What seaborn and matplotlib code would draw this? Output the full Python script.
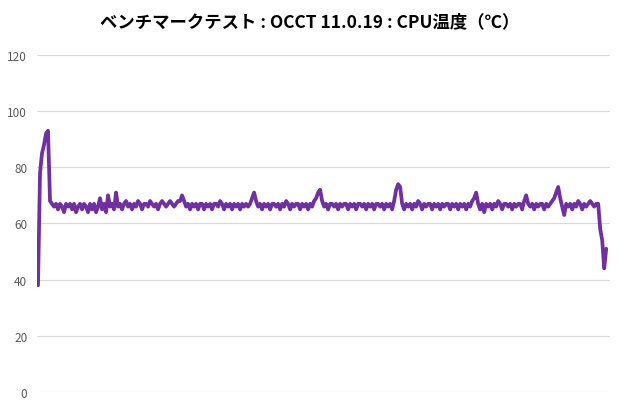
import numpy as np
import pandas as pd
import matplotlib
matplotlib.use("Agg")
import matplotlib.pyplot as plt
import seaborn as sns

# CPU temperature (°C), one sample per ~2 px
startup = [38, 78, 85, 88, 92, 93]
run_a = [68, 67, 66, 67, 65, 67, 66, 64, 67, 66, 67, 65, 67, 64, 66, 67, 65, 67, 66, 64,
         67, 65, 67, 64, 66, 69, 65, 67, 64, 70, 66, 67, 65, 71, 66, 67, 65, 67, 68, 66,
         67, 65, 67, 66, 68, 67, 65, 67, 67, 66, 68, 67, 66, 67, 65, 67, 68, 67, 66, 67,
         68, 67, 66, 67, 68, 68, 70, 68, 66, 67, 65, 67, 66, 67, 65, 67, 67, 65, 67, 66,
         67, 65, 67, 67, 66, 68, 67, 65, 67, 66, 67, 65, 67, 66, 67, 65, 67, 66, 67, 66]
run_b = [67, 69, 71, 68, 66, 67, 65, 67, 66, 67, 65, 67, 67, 66, 67, 65, 67, 66, 68, 67,
         65, 67, 66, 67, 67, 65, 67, 66, 67, 65, 67, 66, 68, 69, 71, 72, 68, 66, 67, 65,
         67, 67, 66, 67, 65, 67, 66, 67, 67, 65, 67, 66, 67, 65, 67, 67, 66, 67, 65, 67,
         66, 67, 65, 67, 67, 66, 67, 65, 67, 66, 67, 65, 68, 72, 74, 73, 67, 65, 67, 66,
         67, 65, 67, 66, 68, 67, 65, 67, 66, 67, 67, 65, 67, 66, 67, 65, 67, 66, 67, 67]
run_c = [65, 67, 66, 67, 65, 67, 66, 67, 65, 67, 66, 68, 69, 71, 67, 65, 67, 64, 67, 66,
         67, 65, 67, 66, 68, 67, 65, 67, 67, 66, 67, 65, 67, 66, 67, 67, 65, 68, 70, 67,
         66, 67, 65, 67, 66, 67, 67, 65, 67, 66, 67, 68, 69, 71, 73, 69, 66, 63, 67, 66,
         67, 65, 67, 66, 68, 67, 65, 67, 66, 67, 68, 67, 66, 67, 67]
cooldown = [58, 54, 44, 51]

temps = startup + run_a + run_b + run_c + cooldown
df = pd.DataFrame({"sample": np.arange(len(temps)), "temp": temps})

title = "ベンチマークテスト : OCCT 11.0.19 : CPU温度（℃）"
yticks = [0, 20, 40, 60, 80, 100, 120]

sns.set_style("white")
plt.rcParams["font.family"] = ["Noto Sans CJK JP", "DejaVu Sans"]

fig = plt.figure(figsize=(6.2, 4.1), dpi=100)
ax = fig.add_axes([0.0597, 0.0415, 0.9245, 0.822])

sns.lineplot(data=df, x="sample", y="temp", color="#7030A0", linewidth=2.7, ax=ax)

ax.set_ylim(0, 120)
ax.set_xlim(-0.5, 286)
ax.set_yticks(yticks)
ax.set_xticks([])
ax.yaxis.grid(True, color="#D9D9D9", linewidth=0.8)
ax.set_axisbelow(True)
ax.tick_params(axis="y", length=0, pad=7, labelsize=8.5, labelcolor="#595959")
ax.set_xlabel("")
ax.set_ylabel("")
sns.despine(ax=ax, left=True, bottom=True)

fig.text(0.5, 0.945, title, ha="center", va="center", fontsize=12.5,
         fontweight="bold", color="#000000")

fig.savefig("out.png", dpi=100)
